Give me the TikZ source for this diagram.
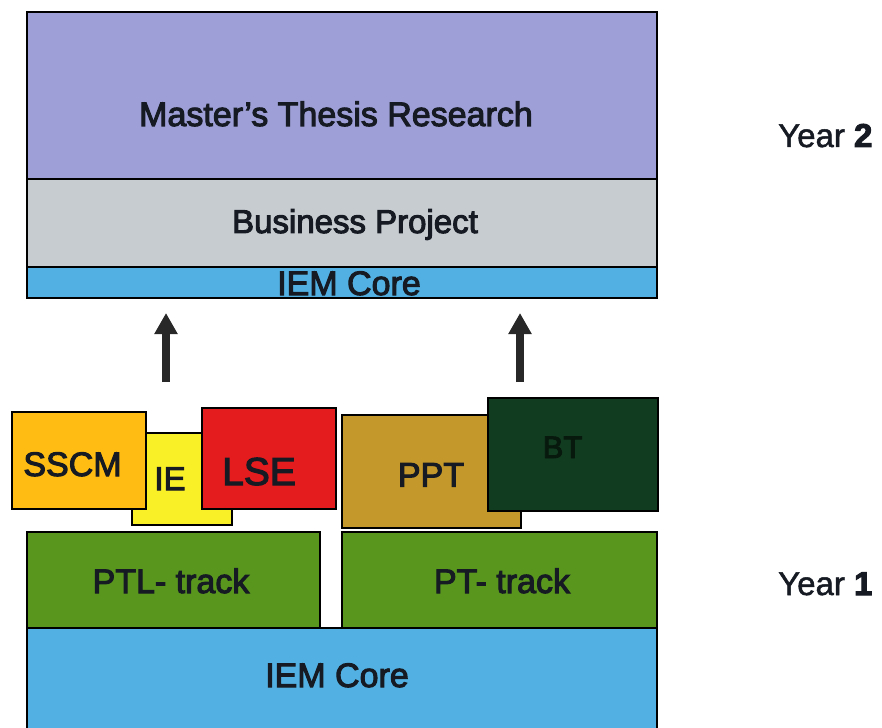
\documentclass[tikz,border=0pt]{standalone}
\usepackage{fontspec}
\setmainfont{Liberation Sans}
\newfontfamily\labelfont[FakeBold=3]{Liberation Sans}
\newfontfamily\yearfont[FakeBold=1.5]{Liberation Sans}
\usetikzlibrary{arrows.meta}

\definecolor{thesisC}{RGB}{157,159,214}
\definecolor{businessC}{RGB}{198,204,208}
\definecolor{coreC}{RGB}{82,177,226}
\definecolor{trackC}{RGB}{88,150,30}
\definecolor{sscmC}{RGB}{255,188,18}
\definecolor{ieC}{RGB}{250,240,40}
\definecolor{lseC}{RGB}{228,28,30}
\definecolor{pptC}{RGB}{196,152,42}
\definecolor{btC}{RGB}{18,60,32}
\definecolor{inkC}{RGB}{22,26,34}
\definecolor{arrowC}{RGB}{40,40,40}

\tikzset{
  block/.style={draw=black, line width=2.2pt, rectangle, inner sep=0pt},
  lbl/.style={anchor=base, inner sep=0pt, text=inkC, font=\labelfont\fontsize{34}{40}\selectfont},
  yearlbl/.style={anchor=base west, inner sep=0pt, text=inkC, font=\yearfont\fontsize{33}{40}\selectfont},
  uparrow/.style={draw=arrowC, line width=8pt, -{Triangle[width=22pt,length=21pt]}}
}

\begin{document}
\begin{tikzpicture}[x=1pt,y=-1pt]
\useasboundingbox (0,0) rectangle (882,727);
\clip (0,0) rectangle (882,727);

% second year stack
\node[block, fill=thesisC, minimum width=630pt, minimum height=167pt] (thesis) at (342,95.5) {};
\node[block, fill=businessC, minimum width=630pt, minimum height=88pt] (business) at (342,223) {};
\node[block, fill=coreC, minimum width=630pt, minimum height=31pt] (coretop) at (342,282.5) {};
\node[lbl] (thesisT) at (336,126) {Master’s Thesis Research};
\node[lbl, font=\labelfont\fontsize{33}{40}\selectfont] (businessT) at (355,233) {Business Project};
\node[lbl] (coretopT) at (349,295) {IEM Core};

% first year base
\node[block, fill=coreC, minimum width=630pt, minimum height=110pt] (corebot) at (342,683) {};
\node[block, fill=trackC, minimum width=293pt, minimum height=96pt] (ptl) at (173.5,580) {};
\node[block, fill=trackC, minimum width=315pt, minimum height=96pt] (pt) at (499.5,580) {};
\node[lbl] (ptlT) at (171,593) {PTL- track};
\node[lbl] (ptT) at (502,593) {PT- track};
\node[lbl] (corebotT) at (337,687) {IEM Core};

% specialisations on the PTL track
\node[block, fill=ieC, minimum width=100pt, minimum height=92pt] (ie) at (182,479) {};
\node[block, fill=sscmC, minimum width=134pt, minimum height=97pt] (sscm) at (79,460.5) {};
\node[block, fill=lseC, minimum width=134pt, minimum height=101pt] (lse) at (269,458.5) {};
\node[lbl, font=\labelfont\fontsize{33}{40}\selectfont] (ieT) at (170,490) {IE};
\node[lbl] (sscmT) at (72.5,476) {SSCM};
\node[lbl, font=\labelfont\fontsize{39}{44}\selectfont] (lseT) at (259,485) {LSE};

% specialisations on the PT track
\node[block, fill=pptC, minimum width=179pt, minimum height=113pt] (ppt) at (431.5,471.5) {};
\node[block, fill=btC, minimum width=170pt, minimum height=113pt] (bt) at (573,454.5) {};
\node[lbl] (pptT) at (431,486.5) {PPT};
\node[lbl, text=black!60!btC, font=\labelfont\fontsize{31}{36}\selectfont] (btT) at (562.5,458) {BT};

% progression arrows
\coordinate (a1s) at (166,382);
\coordinate (a1e) at (166,313);
\coordinate (a2s) at (520,382);
\coordinate (a2e) at (520,313);
\draw[uparrow] (a1s) -- (a1e);
\draw[uparrow] (a2s) -- (a2e);

% year labels
\node[yearlbl] (year2) at (778,147) {Year {\labelfont\bfseries 2}};
\node[yearlbl] (year1) at (778,595) {Year {\labelfont\bfseries 1}};
\end{tikzpicture}
\end{document}
